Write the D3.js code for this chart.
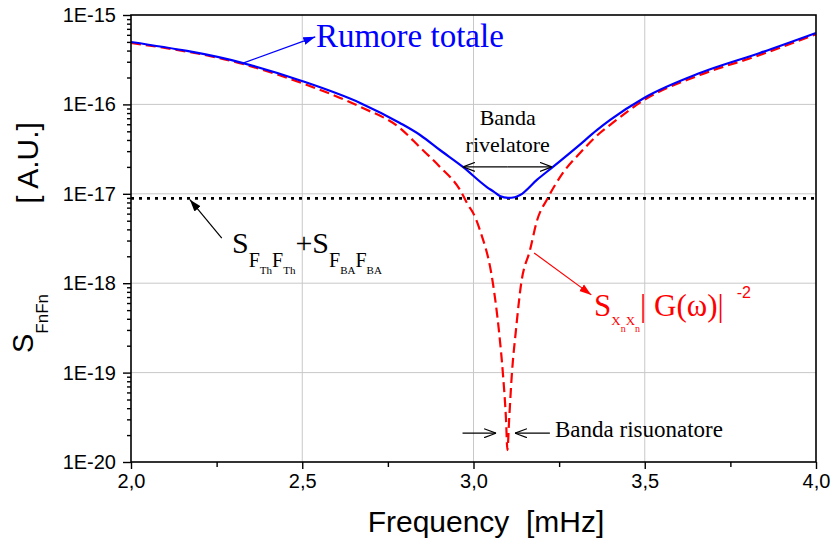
<!DOCTYPE html>
<html>
<head>
<meta charset="utf-8">
<script src="https://cdn.jsdelivr.net/npm/d3@7"></script>
<style>
  body { margin: 0; background: #fff; }
  svg { display: block; }
  .sans { font-family: "Liberation Sans", Arial, sans-serif; }
  .serif { font-family: "Liberation Serif", "Times New Roman", serif; }
</style>
</head>
<body>
<div id="chart"></div>
<script>
// total noise (blue, solid)
const totalFreq = [2.000, 2.327, 2.499, 2.669, 2.785, 2.844, 2.902, 2.969, 3.039, 3.060, 3.077, 3.101,
  3.120, 3.136, 3.185, 3.232, 3.302, 3.361, 3.399, 3.498, 3.661, 3.836, 4.000];
const totalNoise = [4.99e-16, 2.90e-16, 1.83e-16, 1.04e-16, 6.2e-17, 4.55e-17, 3.09e-17, 2.0e-17,
  1.19e-17, 1.05e-17, 9.44e-18, 9.0e-18, 9.15e-18, 9.7e-18, 1.43e-17, 2.0e-17, 3.33e-17, 5.18e-17,
  6.7e-17, 1.18e-16, 2.24e-16, 3.76e-16, 6.3e-16];

// resonator response S_xx |G|^-2 (red, dashed)
const respFreq = [2.000, 2.327, 2.499, 2.669, 2.785, 2.844, 2.902, 2.961, 2.984, 2.999, 3.019, 3.057,
  3.074, 3.086, 3.095, 3.099, 3.104, 3.112, 3.124, 3.139, 3.165, 3.186, 3.215, 3.261, 3.311, 3.369,
  3.399, 3.498, 3.661, 3.836, 4.000];
const respNoise = [4.87e-16, 2.83e-16, 1.73e-16, 9.4e-17, 5.45e-17, 3.3e-17, 2.0e-17, 1.1e-17, 7.5e-18,
  6.1e-18, 3.9e-18, 9.8e-19, 3.0e-19, 9.6e-20, 2.95e-20, 1.36e-20, 2.95e-20, 9.6e-20, 3.0e-19, 9.8e-19,
  2.35e-18, 5.1e-18, 8.7e-18, 1.71e-17, 2.86e-17, 4.79e-17, 5.9e-17, 1.12e-16, 2.13e-16, 3.57e-16,
  6.1e-16];

// thermal + back-action floor (black, dotted)
const floorFreq = [2.0, 4.0];
const floorNoise = [8.9e-18, 8.9e-18];

const xTicks = [2.0, 2.5, 3.0, 3.5, 4.0];
const xTickLabels = ["2,0", "2,5", "3,0", "3,5", "4,0"];
const xMinorTicks = [2.25, 2.75, 3.25, 3.75];
const yTicks = [1e-20, 1e-19, 1e-18, 1e-17, 1e-16, 1e-15];
const yTickLabels = ["1E-20", "1E-19", "1E-18", "1E-17", "1E-16", "1E-15"];

const W = 832, H = 546;
const margin = { top: 15, right: 16, bottom: 84, left: 131 };
const width = W - margin.left - margin.right,
  height = H - margin.top - margin.bottom;

const svg = d3.select("#chart").append("svg")
  .attr("width", W).attr("height", H);

const defs = svg.append("defs");
const marker = (id, color, open) => {
  const m = defs.append("marker")
    .attr("id", id)
    .attr("viewBox", "0 0 12 10")
    .attr("refX", 12).attr("refY", 5)
    .attr("markerUnits", "userSpaceOnUse")
    .attr("markerWidth", 12).attr("markerHeight", 10)
    .attr("orient", "auto");
  if (open) {
    m.append("path").attr("d", "M0,0.5 L12,5 L0,9.5")
      .attr("fill", "none").attr("stroke", color).attr("stroke-width", 1.2);
  } else {
    m.append("path").attr("d", "M0,1 L12,5 L0,9 Z").attr("fill", color);
  }
};
marker("arBlue", "#0000ff", false);
marker("arRed", "#ff0000", false);
marker("arBlack", "#000", false);
marker("arOpen", "#000", true);

const g = svg.append("g")
  .attr("transform", "translate(" + margin.left + "," + margin.top + ")");

const x = d3.scaleLinear().domain([2, 4]).range([0, width]);
const y = d3.scaleLog().domain([1e-20, 1e-15]).range([height, 0]);

// grid
g.append("g").selectAll("line").data(xTicks.slice(1, -1)).join("line")
  .attr("x1", (d) => x(d)).attr("x2", (d) => x(d))
  .attr("y1", 0).attr("y2", height)
  .attr("stroke", "#c8c8c8").attr("stroke-width", 1);
g.append("g").selectAll("line").data(yTicks.slice(1, -1)).join("line")
  .attr("y1", (d) => y(d)).attr("y2", (d) => y(d))
  .attr("x1", 0).attr("x2", width)
  .attr("stroke", "#c8c8c8").attr("stroke-width", 1);

const line = d3.line()
  .curve(d3.curveMonotoneX)
  .x((d) => x(d[0]))
  .y((d) => y(d[1]));

g.append("path")
  .datum(d3.zip(floorFreq, floorNoise))
  .attr("fill", "none").attr("stroke", "#000")
  .attr("stroke-width", 2.6).attr("stroke-dasharray", "3,5")
  .attr("d", line);

g.append("path")
  .datum(d3.zip(respFreq, respNoise))
  .attr("fill", "none").attr("stroke", "#ff0000")
  .attr("stroke-width", 2.2).attr("stroke-dasharray", "10,5")
  .attr("d", line);

g.append("path")
  .datum(d3.zip(totalFreq, totalNoise))
  .attr("fill", "none").attr("stroke", "#0000ff")
  .attr("stroke-width", 2.2).attr("stroke-linejoin", "round")
  .attr("d", line);

// axes
const yMinor = [];
for (let e = -20; e < -15; e++) for (let k = 2; k <= 9; k++) yMinor.push(k * Math.pow(10, e));

g.append("g").attr("class", "sans")
  .call(d3.axisLeft(y).tickValues(yTicks).tickSize(8).tickPadding(7)
    .tickFormat((d, i) => yTickLabels[i]));
g.append("g")
  .call(d3.axisLeft(y).tickValues(yMinor).tickSize(4).tickFormat(""));

g.append("g").attr("class", "sans")
  .attr("transform", "translate(0," + height + ")")
  .call(d3.axisBottom(x).tickValues(xTicks).tickSize(7).tickPadding(5)
    .tickFormat((d, i) => xTickLabels[i]));
g.append("g")
  .attr("transform", "translate(0," + height + ")")
  .call(d3.axisBottom(x).tickValues(xMinorTicks).tickSize(5).tickFormat(""));

g.selectAll(".tick line").attr("stroke", "#000").attr("stroke-width", 1.4);
g.selectAll(".domain").remove();
g.selectAll(".tick text").attr("font-size", 20).attr("fill", "#000")
  .attr("font-family", "Liberation Sans, Arial, sans-serif");

g.append("rect")
  .attr("width", width).attr("height", height)
  .attr("fill", "none").attr("stroke", "#000").attr("stroke-width", 1.6);

// axis titles
svg.append("text").attr("class", "sans")
  .attr("x", 486).attr("y", 532)
  .attr("text-anchor", "middle").attr("font-size", 30)
  .style("white-space", "pre")
  .text("Frequency  [mHz]");

svg.append("text").attr("class", "sans")
  .attr("transform", "translate(38,163) rotate(-90)")
  .attr("text-anchor", "middle").attr("font-size", 30)
  .style("white-space", "pre")
  .text("[ A.U.]");

const yt = svg.append("text").attr("class", "sans")
  .attr("transform", "translate(33,353) rotate(-90)");
yt.append("tspan").attr("font-size", 29).text("S");
yt.append("tspan").attr("font-size", 17).attr("dy", 15).text("FnFn");

// annotations (positions in data units)
const ann = g.append("g").attr("class", "serif");

// Rumore totale
ann.append("line")
  .attr("x1", x(2.327)).attr("y1", y(2.9e-16))
  .attr("x2", x(2.538)).attr("y2", y(5.7e-16))
  .attr("stroke", "#0000ff").attr("stroke-width", 1.2)
  .attr("marker-end", "url(#arBlue)");
ann.append("text")
  .attr("x", x(2.540)).attr("y", y(4.4e-16))
  .attr("font-size", 33).attr("fill", "#0000ff")
  .text("Rumore totale");

// Banda rivelatore
ann.append("text").attr("x", x(3.10)).attr("y", y(5.9e-17))
  .attr("text-anchor", "middle").attr("font-size", 22).text("Banda");
ann.append("text").attr("x", x(3.10)).attr("y", y(2.94e-17))
  .attr("text-anchor", "middle").attr("font-size", 22).text("rivelatore");
ann.append("line")
  .attr("x1", x(3.10)).attr("x2", x(2.969))
  .attr("y1", y(2.0e-17)).attr("y2", y(2.0e-17))
  .attr("stroke", "#000").attr("stroke-width", 1.2)
  .attr("marker-end", "url(#arOpen)");
ann.append("line")
  .attr("x1", x(3.10)).attr("x2", x(3.229))
  .attr("y1", y(2.0e-17)).attr("y2", y(2.0e-17))
  .attr("stroke", "#000").attr("stroke-width", 1.2)
  .attr("marker-end", "url(#arOpen)");

// floor label
ann.append("line")
  .attr("x1", x(2.265)).attr("y1", y(3.2e-18))
  .attr("x2", x(2.172)).attr("y2", y(8.6e-18))
  .attr("stroke", "#000").attr("stroke-width", 1.2)
  .attr("marker-end", "url(#arBlack)");
const fl = ann.append("text").attr("x", x(2.295)).attr("y", y(2.2e-18)).attr("fill", "#000");
fl.append("tspan").attr("font-size", 30).text("S");
fl.append("tspan").attr("font-size", 20).attr("dy", 14).text("F");
fl.append("tspan").attr("font-size", 11).attr("dy", 7).text("Th");
fl.append("tspan").attr("font-size", 20).attr("dy", -7).text("F");
fl.append("tspan").attr("font-size", 11).attr("dy", 7).text("Th");
fl.append("tspan").attr("font-size", 30).attr("dy", -21).text("+S");
fl.append("tspan").attr("font-size", 20).attr("dy", 14).text("F");
fl.append("tspan").attr("font-size", 11).attr("dy", 7).text("BA");
fl.append("tspan").attr("font-size", 20).attr("dy", -7).text("F");
fl.append("tspan").attr("font-size", 11).attr("dy", 7).text("BA");

// response label
ann.append("line")
  .attr("x1", x(3.177)).attr("y1", y(2.18e-18))
  .attr("x2", x(3.344)).attr("y2", y(7.4e-19))
  .attr("stroke", "#ff0000").attr("stroke-width", 1.2)
  .attr("marker-end", "url(#arRed)");
const rl = ann.append("text").attr("x", x(3.352)).attr("y", y(4.3e-19)).attr("fill", "#ff0000");
rl.append("tspan").attr("font-size", 31).text("S");
rl.append("tspan").attr("font-size", 13).attr("dy", 9).text("X");
rl.append("tspan").attr("font-size", 10).attr("dy", 7).text("n");
rl.append("tspan").attr("font-size", 13).attr("dy", -7).text("X");
rl.append("tspan").attr("font-size", 10).attr("dy", 7).text("n");
rl.append("tspan").attr("font-size", 31).attr("dy", -16).text("| G(ω)|");
rl.append("tspan").attr("font-size", 16).attr("dx", 13).attr("dy", -18)
  .attr("font-family", "Liberation Sans, Arial, sans-serif").text("-2");

// Banda risuonatore
ann.append("line")
  .attr("x1", x(2.968)).attr("x2", x(3.066))
  .attr("y1", y(2.1e-20)).attr("y2", y(2.1e-20))
  .attr("stroke", "#000").attr("stroke-width", 1.2)
  .attr("marker-end", "url(#arOpen)");
ann.append("line")
  .attr("x1", x(3.223)).attr("x2", x(3.121))
  .attr("y1", y(2.1e-20)).attr("y2", y(2.1e-20))
  .attr("stroke", "#000").attr("stroke-width", 1.2)
  .attr("marker-end", "url(#arOpen)");
ann.append("text")
  .attr("x", x(3.238)).attr("y", y(1.9e-20))
  .attr("font-size", 23).text("Banda risuonatore");
</script>
</body>
</html>
